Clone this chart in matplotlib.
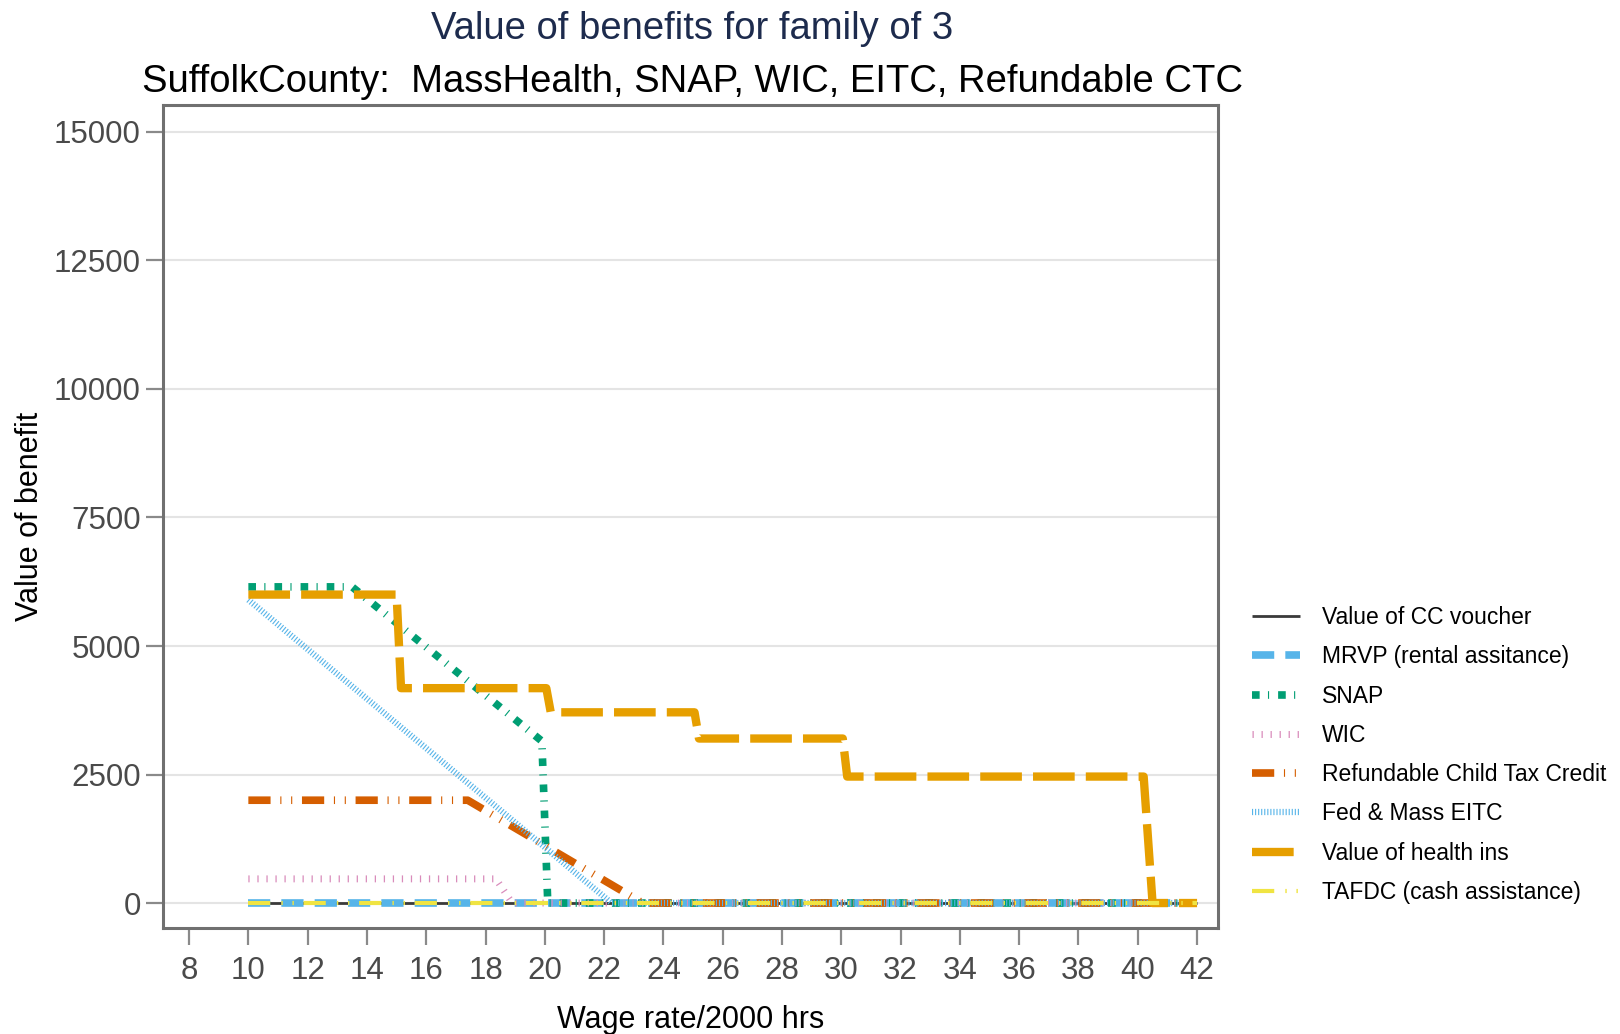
import matplotlib
matplotlib.use("Agg")
import matplotlib.pyplot as plt

plt.rcParams['font.family'] = ['Liberation Sans', 'DejaVu Sans']
plt.rcParams['lines.scale_dashes'] = False

# ---- data ----
cc_wage = [10, 42]
cc_val = [0, 0]

mrvp_wage = [10, 42]
mrvp_val = [0, 0]

snap_wage = [10, 13.5, 19.9, 20.1, 42]
snap_val = [6150, 6150, 3150, 0, 0]

wic_wage = [10, 18.35, 18.9, 42]
wic_val = [470, 470, 0, 0]

ctc_wage = [10, 17.4, 23.3, 42]
ctc_val = [2000, 2000, 0, 0]

eitc_wage = [10, 22.25, 42]
eitc_val = [5900, 0, 0]

health_wage = [10, 15.0, 15.15, 20.05, 20.2, 25.05, 25.2, 30.05, 30.2, 40.2, 40.5, 42]
health_val = [6000, 6000, 4180, 4180, 3710, 3710, 3200, 3200, 2460, 2460, 0, 0]

tafdc_wage = [10, 42]
tafdc_val = [0, 0]

labels = ["Value of CC voucher", "MRVP (rental assitance)", "SNAP", "WIC",
          "Refundable Child Tax Credit", "Fed & Mass EITC", "Value of health ins",
          "TAFDC (cash assistance)"]
xticks = list(range(8, 43, 2))
yticks = [0, 2500, 5000, 7500, 10000, 12500, 15000]

# ---- figure ----
fig = plt.figure(figsize=(16.2, 10.34), dpi=100)
ax = fig.add_axes([0.1006, 0.1025, 0.6513, 0.796])

ax.set_xlim(7.12, 42.71)
ax.set_ylim(-486, 15525)
ax.set_xticks(xticks)
ax.set_yticks(yticks)
ax.grid(axis='y', color='#e4e4e4', lw=1.5, zorder=0)
ax.set_axisbelow(True)

series = [
    (cc_wage, cc_val, dict(color='#3a3a3a', lw=2.0, linestyle='-')),
    (mrvp_wage, mrvp_val, dict(color='#56B4E9', lw=5.5, dashes=(16, 8))),
    (snap_wage, snap_val, dict(color='#009E73', lw=5.5, dashes=(5.5, 6, 0.8, 6.5))),
    (wic_wage, wic_val, dict(color='#D98CBB', lw=5, dashes=(0.9, 5.6))),
    (ctc_wage, ctc_val, dict(color='#D55E00', lw=5.5, dashes=(16, 7, 0.8, 7, 0.8, 7))),
    (eitc_wage, eitc_val, dict(color='#56B4E9', lw=4.5, dashes=(0.8, 1.4))),
    (health_wage, health_val, dict(color='#E69F00', lw=6, dashes=(30, 8))),
    (tafdc_wage, tafdc_val, dict(color='#F0E442', lw=3, dashes=(16, 8, 1, 7, 1, 7))),
]
handles = []
for (x, y, kw), lab in zip(series, labels):
    h, = ax.plot(x, y, label=lab, solid_capstyle='butt', dash_capstyle='butt', **kw)
    handles.append(h)

for s in ax.spines.values():
    s.set_color('#707070')
    s.set_linewidth(2.2)

ax.tick_params(axis='both', colors='#8a8a8a', labelcolor='#4a4a4a',
               labelsize=22.5, length=12, width=1.6)
ax.tick_params(axis='y', pad=4)
ax.tick_params(axis='x', pad=8.5)

ax.set_xlabel("Wage rate/2000 hrs", fontsize=22, color='black')
ax.set_ylabel("Value of benefit", fontsize=22, color='black')
ax.xaxis.set_label_coords(0.5, -0.0937)
ax.yaxis.set_label_coords(-0.1114, 0.5)

fig.text(0.4272, 0.9719, "Value of benefits for family of 3", fontsize=27.5,
         color='#1d2b4d', ha='center', va='center')
fig.text(0.4272, 0.9206, "SuffolkCounty:  MassHealth, SNAP, WIC, EITC, Refundable CTC",
         fontsize=27.5, color='black', ha='center', va='center')

fig.legend(handles=handles, labels=labels, loc='upper left',
           bbox_to_anchor=(0.7728, 0.4138), frameon=False, fontsize=16.5,
           handlelength=2.1, handletextpad=0.95, labelspacing=0.71,
           borderpad=0, borderaxespad=0)

fig.savefig("out.png", dpi=100)
